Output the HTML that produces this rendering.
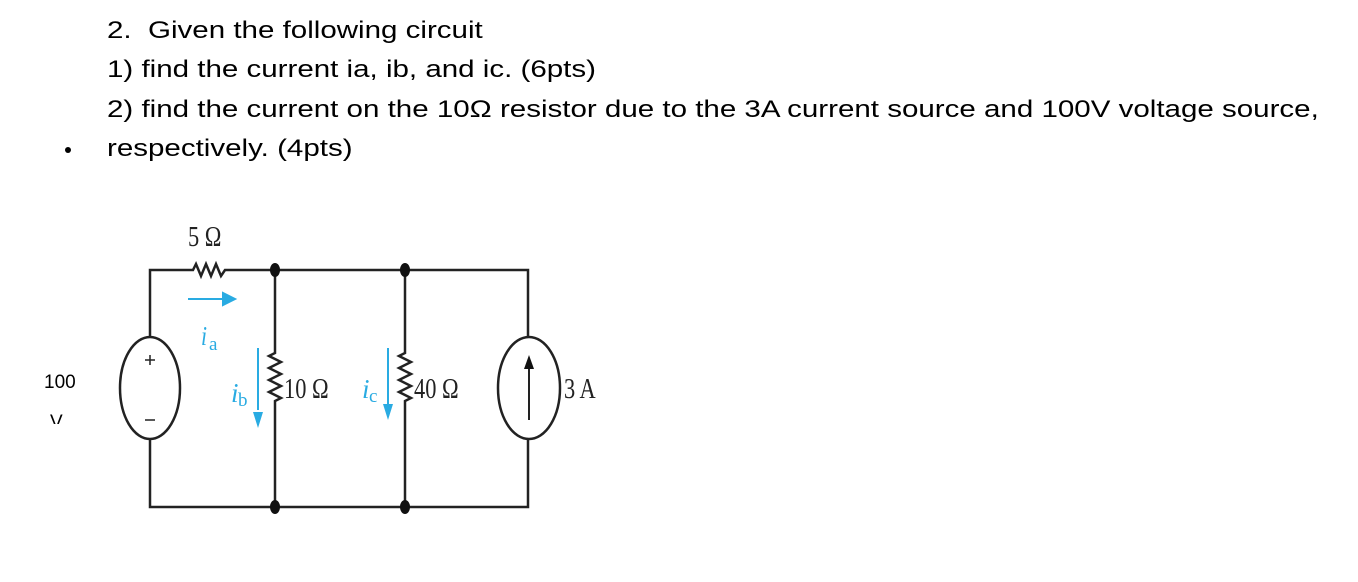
<!DOCTYPE html>
<html><head><style>
body{margin:0;width:1358px;height:582px;background:#fff;overflow:hidden;position:relative;font-family:"Liberation Sans",Arial,sans-serif;}
.t{position:absolute;left:107px;font-size:24px;color:#000;white-space:nowrap;transform:scaleX(1.23);transform-origin:0 0;}
</style></head><body>
<div class="t" style="top:17px">2.&nbsp; Given the following circuit</div>
<div class="t" style="top:56px">1) find the current ia, ib, and ic. (6pts)</div>
<div class="t" style="top:96px">2) find the current on the 10Ω resistor due to the 3A current source and 100V voltage source,</div>
<div class="t" style="top:135px">respectively. (4pts)</div>
<div style="position:absolute;left:65px;top:147px;width:6px;height:6px;border-radius:50%;background:#000"></div>
<div style="position:absolute;left:44px;top:372px;font-size:19px">100</div>
<div style="position:absolute;left:50px;top:412px;font-size:19px;height:12px;overflow:hidden">V</div>
<svg width="1358" height="582" style="position:absolute;left:0;top:0" font-family="Liberation Serif,serif">
<g stroke="#222" stroke-width="2.5" fill="none">
<path d="M150 337 V270 H193 l3 -6 l5 12 l5 -12 l5 12 l5 -12 l5 12 l4 -6 H528 V337"/>
<path d="M528 440 V507 H150 V440"/>
<path d="M275 270 V353 l-6 3 l12 6 l-12 6 l12 6 l-12 6 l12 6 l-12 6 l12 6 l-6 3 V507"/>
<path d="M405 270 V353 l-6 3 l12 6 l-12 6 l12 6 l-12 6 l12 6 l-12 6 l12 6 l-6 3 V507"/>
<ellipse cx="150" cy="388" rx="30" ry="51"/>
<ellipse cx="529" cy="388" rx="31" ry="51"/>
<path d="M529 420 V365" stroke-width="2"/>
<path d="M145 360 h10 M150 355 v10 M145 420 h10" stroke-width="1.5"/>
</g>
<path d="M529 355 l-5 14 h10z" fill="#111"/>
<g fill="#111"><ellipse cx="275" cy="270" rx="5" ry="7"/><ellipse cx="405" cy="270" rx="5" ry="7"/><ellipse cx="275" cy="507" rx="5" ry="7"/><ellipse cx="405" cy="507" rx="5" ry="7"/></g>
<g stroke="#29abe2" stroke-width="2" fill="#29abe2">
<path d="M188 299 H225"/><path d="M235 299 l-12 -6 v12z"/>
<path d="M258 348 V410"/><path d="M258 428 l-5 -16 h10z" stroke="none"/>
<path d="M388 348 V405"/><path d="M388 420 l-5 -16 h10z" stroke="none"/>
</g>
<g fill="#29abe2" font-style="italic">
<text x="201" y="345" font-size="27" transform="translate(201 0) scale(0.8 1) translate(-201 0)">i</text><text x="209" y="350" font-size="19" font-style="normal">a</text>
<text x="231" y="402" font-size="27">i</text><text x="238" y="406" font-size="19" font-style="normal">b</text>
<text x="362" y="398" font-size="27">i</text><text x="369" y="402" font-size="19" font-style="normal">c</text>
</g>
<g fill="#222" font-size="28">
<text x="0" y="0" transform="translate(188 246) scale(0.8 1)">5 Ω</text>
<text x="0" y="0" transform="translate(284 398) scale(0.8 1)">10 Ω</text>
<text x="0" y="0" transform="translate(414 398) scale(0.8 1)">40 Ω</text>
<text x="0" y="0" transform="translate(564 398) scale(0.8 1)">3 A</text>
</g>
</svg>
</body></html>
